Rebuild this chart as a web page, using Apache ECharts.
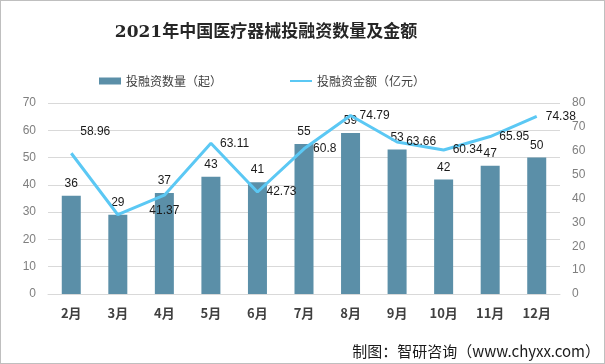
<!DOCTYPE html>
<html><head><meta charset="utf-8">
<script src="https://cdn.jsdelivr.net/npm/echarts@6/dist/echarts.min.js"></script>
<style>html,body{margin:0;padding:0;background:#fff}#c{width:605px;height:364px;box-sizing:border-box;border:1px solid #bfbfbf}</style>
</head><body><div id="c"></div>
<script>
const categories = ['2月','3月','4月','5月','6月','7月','8月','9月','10月','11月','12月'];
const countValues = [36,29,37,43,41,55,59,53,42,47,50];
const amountValues = [58.96,33.2,41.37,63.11,42.73,60.8,74.79,63.66,60.34,65.95,74.38];
const leftTicks = {min:0,max:70,interval:10};
const rightTicks = {min:0,max:80,interval:10};

const chart = echarts.init(document.getElementById('c'));
const lineData = amountValues.map((v,i)=>{
  const d = {value:v};
  if(i===1) d.label={show:false};
  if(i===0) d.label={position:[9,-27]};
  if(i===2) d.label={position:'bottom',offset:[2,2]};
  return d;
});
chart.setOption({
  animation:false,
  title:{text:'2021年中国医疗器械投融资数量及金额',left:260,top:18,textAlign:'center',
    textStyle:{fontFamily:'"DejaVu Serif","Noto Sans CJK SC",serif',fontWeight:'bold',fontSize:17,color:'#262626'}},
  legend:{top:69,left:93,itemGap:67,itemWidth:22,itemHeight:7,
    textStyle:{fontSize:12,color:'#404040',fontFamily:'"Noto Sans CJK SC",sans-serif'},
    data:[{name:'投融资数量（起）',icon:'rect'},{name:'投融资金额（亿元）',itemStyle:{opacity:0}}]},
  grid:{left:47,right:44,top:102,bottom:69,containLabel:false},
  xAxis:{type:'category',data:categories,
    axisLine:{show:true,lineStyle:{color:'#d9d9d9'}},axisTick:{show:false},
    axisLabel:{fontSize:13,fontWeight:'bold',color:'#404040',margin:13,fontFamily:'"Noto Sans CJK SC",sans-serif'}},
  yAxis:[
    {type:'value',min:leftTicks.min,max:leftTicks.max,interval:leftTicks.interval,
      axisLine:{show:false},axisTick:{show:false},
      axisLabel:{fontSize:12,color:'#7f7f7f',margin:12},
      splitLine:{lineStyle:{color:'#d9d9d9'}}},
    {type:'value',min:rightTicks.min,max:rightTicks.max,interval:rightTicks.interval,
      axisLine:{show:false},axisTick:{show:false},
      axisLabel:{fontSize:12,color:'#7f7f7f',margin:12},
      splitLine:{show:false}}
  ],
  series:[
    {name:'投融资数量（起）',type:'bar',data:countValues,barWidth:19,yAxisIndex:0,
      itemStyle:{color:'#5b8fa8'},
      label:{show:true,position:'top',distance:6,fontSize:12,color:'#1a1a1a'}},
    {name:'投融资金额（亿元）',type:'line',data:lineData,yAxisIndex:1,
      symbol:'circle',symbolSize:0.1,showSymbol:true,
      lineStyle:{color:'#5bc8f4',width:3},itemStyle:{color:'#5bc8f4'},
      label:{show:true,position:'right',distance:9,fontSize:12,color:'#1a1a1a'},
      labelLayout:{hideOverlap:false}}
  ],
  graphic:[
    {type:'text',right:4,top:343,style:{text:'制图：智研咨询（www.chyxx.com）',fontSize:15,fill:'#1a1a1a',fontFamily:'"Noto Sans CJK SC",sans-serif'}}
  ]
});
</script></body></html>
